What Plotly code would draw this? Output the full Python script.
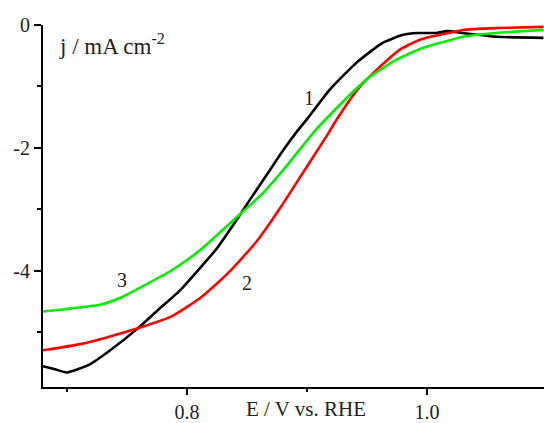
import plotly.graph_objects as go

# Curve 1 (black)
e1 = [0.680, 0.690, 0.700, 0.719, 0.736, 0.758, 0.775, 0.794, 0.811, 0.825, 0.842, 0.8525,
      0.867, 0.880, 0.8925, 0.900, 0.919, 0.942, 0.963, 0.980, 0.992, 1.008, 1.017, 1.030,
      1.058, 1.097]
j1 = [-5.55, -5.60, -5.65, -5.52, -5.29, -4.95, -4.65, -4.32, -3.95, -3.63, -3.15, -2.84,
      -2.42, -2.04, -1.71, -1.53, -1.05, -0.60, -0.29, -0.16, -0.13, -0.13, -0.10, -0.13,
      -0.19, -0.21]

# Curve 2 (red)
e2 = [0.680, 0.711, 0.733, 0.761, 0.788, 0.811, 0.8275, 0.836, 0.858, 0.8775, 0.897, 0.9175,
      0.925, 0.942, 0.958, 0.9775, 0.994, 1.003, 1.011, 1.030, 1.058, 1.097]
j2 = [-5.29, -5.19, -5.08, -4.92, -4.73, -4.44, -4.16, -4.00, -3.52, -2.98, -2.39, -1.77,
      -1.53, -1.05, -0.73, -0.40, -0.24, -0.19, -0.16, -0.08, -0.05, -0.03]

# Curve 3 (green)
e3 = [0.680, 0.694, 0.7275, 0.744, 0.761, 0.788, 0.811, 0.840, 0.863, 0.883, 0.908,
      0.936, 0.9525, 0.975, 0.9967, 1.011, 1.030, 1.058, 1.097]
j3 = [-4.66, -4.63, -4.55, -4.44, -4.27, -3.98, -3.66, -3.15, -2.74, -2.29, -1.69,
      -1.13, -0.84, -0.56, -0.37, -0.29, -0.19, -0.13, -0.08]

x_ticks = [0.8, 1.0]
x_ticktext = ["0.8", "1.0"]
x_minor = [0.7, 0.9]
y_ticks = [0, -2, -4]
y_ticktext = ["0", "-2", "-4"]
y_minor = [-1, -3, -5]

curve_labels = [("1", 0.902, -1.18), ("2", 0.850, -4.20), ("3", 0.746, -4.15)]

FONT = "Liberation Serif, Times New Roman, serif"

fig = go.Figure()
for e, j, c in [(e1, j1, "#000000"), (e2, j2, "#ff0000"), (e3, j3, "#00ee00")]:
    fig.add_trace(go.Scatter(x=e, y=j, mode="lines",
                             line=dict(color=c, width=2.6, shape="spline", smoothing=0.5),
                             showlegend=False, hoverinfo="skip"))

for txt, x, y in curve_labels:
    fig.add_annotation(x=x, y=y, text=txt, showarrow=False,
                       font=dict(family=FONT, size=20, color="#222222"))

fig.add_annotation(xref="paper", yref="paper", x=0.028, y=0.945, xanchor="left", yanchor="middle",
                   text="j / mA cm<sup>-2</sup>", showarrow=False,
                   font=dict(family=FONT, size=23, color="#222222"))
fig.add_annotation(xref="paper", yref="paper", x=0.525, y=-0.062, xanchor="center", yanchor="middle",
                   text="E / V vs. RHE", showarrow=False,
                   font=dict(family=FONT, size=21, color="#222222"))

fig.update_xaxes(range=[0.68, 1.0975], showgrid=False, zeroline=False,
                 showline=True, linecolor="black", linewidth=2,
                 ticks="outside", ticklen=6, tickwidth=2, tickcolor="black",
                 tickmode="array", tickvals=x_ticks, ticktext=x_ticktext,
                 tickfont=dict(family=FONT, size=20, color="#222222"),
                 minor=dict(tickmode="array", tickvals=x_minor, ticks="outside",
                            ticklen=3, tickwidth=2, tickcolor="black"))
fig.update_yaxes(range=[-5.887, 0], showgrid=False, zeroline=False,
                 showline=True, linecolor="black", linewidth=2,
                 ticks="outside", ticklen=7, tickwidth=2, tickcolor="black",
                 tickmode="array", tickvals=y_ticks, ticktext=y_ticktext,
                 tickfont=dict(family=FONT, size=20, color="#222222"),
                 minor=dict(tickmode="array", tickvals=y_minor, ticks="outside",
                            ticklen=4, tickwidth=2, tickcolor="black"))

fig.update_layout(width=544, height=423, autosize=False,
                  margin=dict(l=43, r=0, t=25, b=33),
                  paper_bgcolor="white", plot_bgcolor="white")

fig.write_html("out.html", config={"displayModeBar": False, "staticPlot": True})

# remove default page margin so the figure sits at the window origin
with open("out.html", "r", encoding="utf-8") as f:
    html = f.read()
html = html.replace("<head>", "<head><style>html,body{margin:0;padding:0;overflow:hidden;}</style>", 1)
with open("out.html", "w", encoding="utf-8") as f:
    f.write(html)
